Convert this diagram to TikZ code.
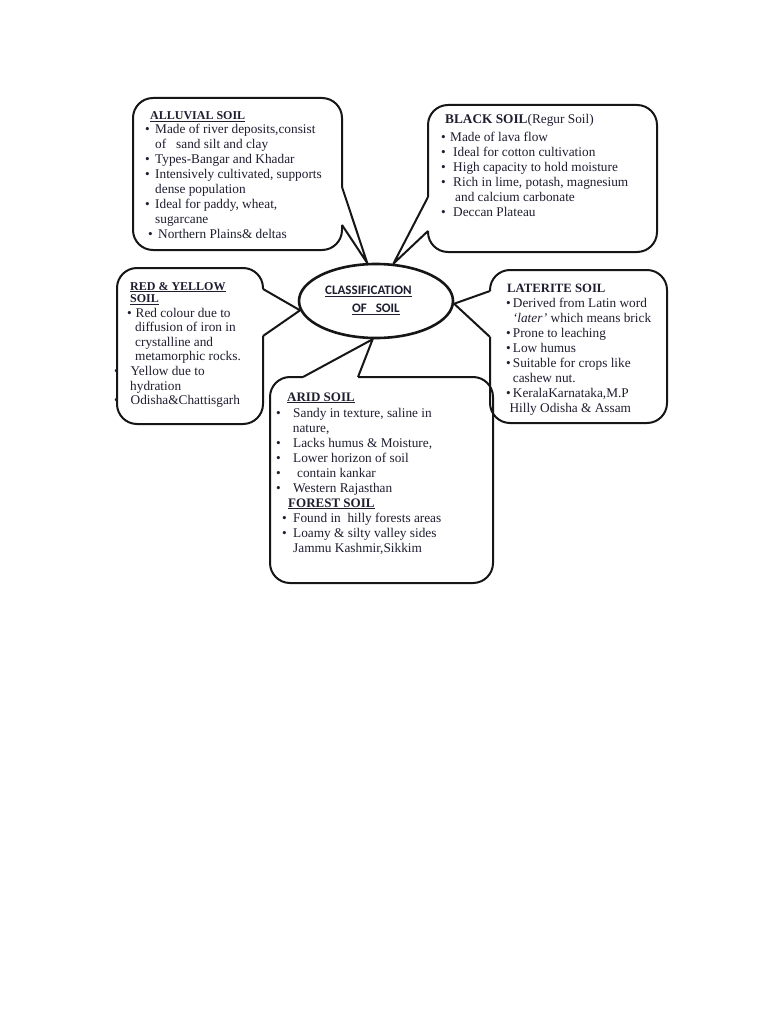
\documentclass[tikz,border=0pt]{standalone}
\usepackage{fontspec}
\setmainfont{Liberation Serif}
\newfontfamily\calibfont{Carlito}
\usetikzlibrary{shapes.geometric}
\definecolor{ink}{RGB}{30,30,48}
\definecolor{edge}{RGB}{22,22,22}
\newcommand\bul[1][10pt]{\makebox[#1][l]{\textbullet}}
\newcommand\headsize[1]{\fontsize{#1}{15}\selectfont\bfseries}

\begin{document}
\begin{tikzpicture}[x=1pt,y=-1pt,
  callout/.style={draw=edge,line width=2pt,rounded corners=20pt},
  calltail/.style={draw=edge,line width=2pt,line join=round},
  body/.style={anchor=base west,inner sep=0pt,text=ink,font=\fontsize{13.3}{15}\selectfont},
  head/.style={anchor=base west,inner sep=0pt,text=ink}]
  \useasboundingbox[fill=white](0,0) rectangle (768,1024);
  % centre
  \node[draw=edge,ellipse,line width=2.6pt,minimum width=154pt,minimum height=74pt] (soil) at (376,301) {};
  \node[anchor=base west,inner sep=0pt,text=ink,font=\calibfont\bfseries\fontsize{13}{18}\selectfont] (soiltitle) at (325,294.5)
    {\begin{tabular}[t]{@{}l@{}}\underline{CLASSIFICATION}\\\hspace*{27pt}\underline{OF\ \ \ SOIL}\end{tabular}};
  % alluvial soil
  \draw[callout] (342,187) -- (342,98) -- (133,98) -- (133,250) -- (342,250) -- (342,225);
  \draw[calltail] (342,225) -- (soil.103) -- (342,187);
  % black soil
  \draw[callout] (428,197) -- (428,105) -- (657,105) -- (657,252) -- (428,252) -- (428,231);
  \draw[calltail] (428,231) -- (soil.65) -- (428,197);
  % red & yellow soil
  \draw[callout] (263,336) -- (263,424) -- (117,424) -- (117,268) -- (263,268) -- (263,289);
  \draw[calltail] (263,289) -- (soil.187) -- (263,336);
  % laterite soil
  \draw[callout] (490,291) -- (490,270) -- (667,270) -- (667,423) -- (490,423) -- (490,337);
  \draw[calltail] (490,337) -- (soil.358) -- (490,291);
  % arid & forest soil
  \draw[callout] (358,377) -- (493,377) -- (493,583) -- (270,583) -- (270,377) -- (303,377);
  \draw[calltail] (303,377) -- (soil.265) -- (358,377);

  \node[head,font=\headsize{12}] (alluvialhead) at (150,120) {\underline{ALLUVIAL SOIL}};
  \node[body] (alluvialtext) at (145,134) {\begin{tabular}[t]{@{}l@{}}
    \bul Made of river deposits,consist\\
    \hspace*{10pt}of\ \ \ sand silt and clay\\
    \bul Types-Bangar and Khadar\\
    \bul Intensively cultivated, supports\\
    \hspace*{10pt}dense population\\
    \bul Ideal for paddy, wheat,\\
    \hspace*{10pt}sugarcane\\
    \hspace*{3pt}\bul Northern Plains\& deltas
  \end{tabular}};

  \node[head,font=\fontsize{13.3}{15}\selectfont] (blackhead) at (445,124) {\textbf{BLACK SOIL}(Regur Soil)};
  \node[body] (blacktext) at (441,142) {\begin{tabular}[t]{@{}l@{}}
    \bul[9pt]Made of lava flow\\
    \bul[12pt]Ideal for cotton cultivation\\
    \bul[12pt]High capacity to hold moisture\\
    \bul[12pt]Rich in lime, potash, magnesium\\
    \hspace*{14pt}and calcium carbonate\\
    \bul[12pt]Deccan Plateau
  \end{tabular}};

  \node[head,font=\fontsize{12}{12.7}\selectfont\bfseries] (redhead) at (130,290)
    {\begin{tabular}[t]{@{}l@{}}\underline{RED \& YELLOW}\\\underline{SOIL}\end{tabular}};
  \node[body,font=\fontsize{13.3}{14.6}\selectfont] (redtext) at (114,317) {\begin{tabular}[t]{@{}l@{}}
    \hspace*{13pt}\bul[8.5pt]Red colour due to\\
    \hspace*{21pt}diffusion of iron in\\
    \hspace*{21pt}crystalline and\\
    \hspace*{21pt}metamorphic rocks.\\
    \bul[16.5pt]Yellow due to\\
    \hspace*{16pt}hydration\\
    \bul[16.5pt]Odisha\&Chattisgarh
  \end{tabular}};

  \node[head,font=\headsize{12.7}] (lateritehead) at (507,292) {LATERITE SOIL};
  \node[body] (lateritetext) at (506,307) {\begin{tabular}[t]{@{}l@{}}
    \bul[6.7pt]Derived from Latin word\\
    \hspace*{6.7pt}\textit{‘later’} which means brick\\
    \bul[6.7pt]Prone to leaching\\
    \bul[6.7pt]Low humus\\
    \bul[6.7pt]Suitable for crops like\\
    \hspace*{6.7pt}cashew nut.\\
    \bul[6.7pt]KeralaKarnataka,M.P\\
    \hspace*{3.3pt}Hilly Odisha \& Assam
  \end{tabular}};

  \node[head,font=\headsize{13}] (aridhead) at (287,401) {\underline{ARID SOIL}};
  \node[body] (aridtext) at (276,417) {\begin{tabular}[t]{@{}l@{}}
    \bul[17pt]Sandy in texture, saline in\\
    \hspace*{16.7pt}nature,\\
    \bul[17pt]Lacks humus \& Moisture,\\
    \bul[17pt]Lower horizon of soil\\
    \bul[21pt]contain kankar\\
    \bul[17pt]Western Rajasthan
  \end{tabular}};
  \node[head,font=\headsize{13}] (foresthead) at (288,507) {\underline{FOREST SOIL}};
  \node[body] (foresttext) at (282,522) {\begin{tabular}[t]{@{}l@{}}
    \bul[11pt]Found in\ \ hilly forests areas\\
    \bul[11pt]Loamy \& silty valley sides\\
    \hspace*{11pt}Jammu Kashmir,Sikkim
  \end{tabular}};
\end{tikzpicture}
\end{document}
